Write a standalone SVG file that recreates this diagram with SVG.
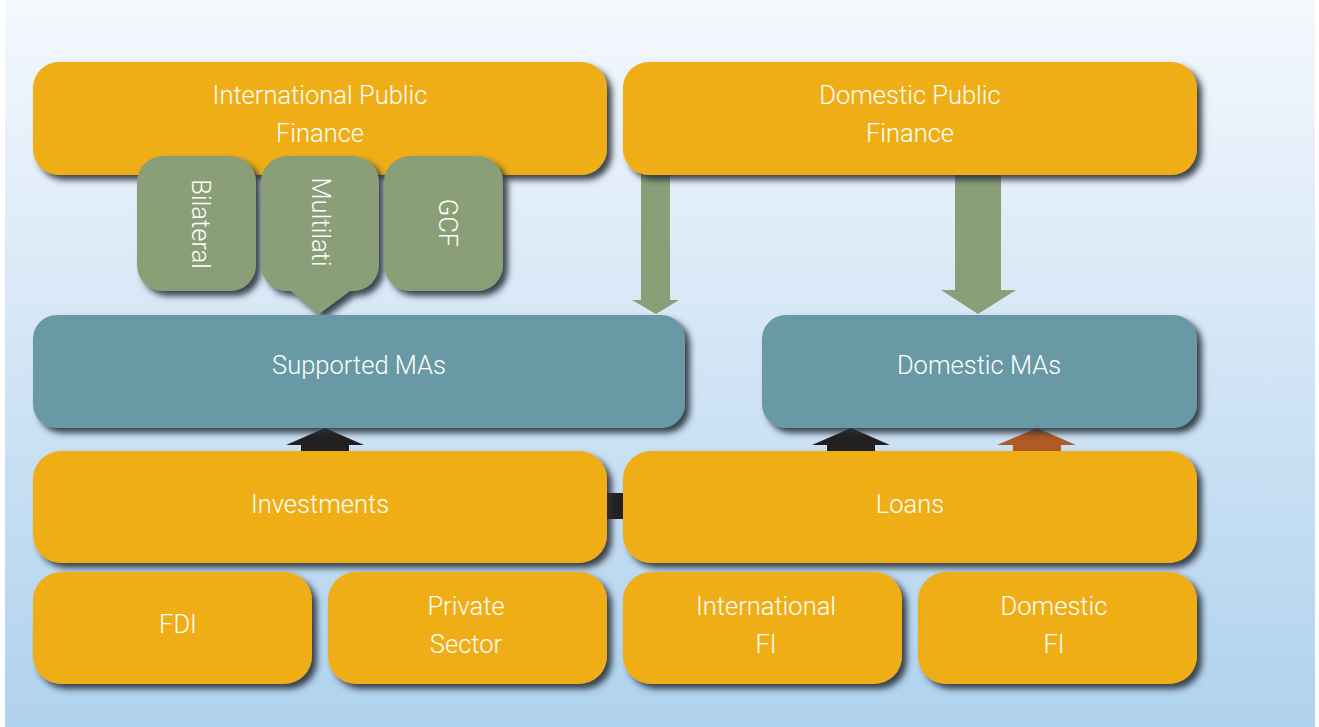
<svg xmlns="http://www.w3.org/2000/svg" width="1319" height="727" viewBox="0 0 1319 727">
<defs>
<linearGradient id="bg" x1="0" y1="0" x2="0" y2="1">
<stop offset="0" stop-color="#f5f8fd"/>
<stop offset="1" stop-color="#afd2ee"/>
</linearGradient>
<filter id="sh" x="-10%" y="-10%" width="125%" height="130%">
<feDropShadow dx="5" dy="5" stdDeviation="3" flood-color="#2b303a" flood-opacity="0.9"/>
</filter>
</defs>
<style>
.o{fill:#f0ae14;filter:url(#sh)}
.g{fill:#8a9f78;filter:url(#sh)}
.t{fill:#6899a4;filter:url(#sh)}
text{font-family:Roboto,"Liberation Sans",Arial,sans-serif;font-weight:300;font-size:25.5px;fill:#ffffff;text-anchor:middle}
</style>
<rect x="0" y="0" width="1319" height="727" fill="#ffffff"/>
<rect x="5" y="0" width="1310" height="727" fill="url(#bg)"/>

<g id="connectors">
<rect x="605" y="493" width="20" height="26" fill="#231f20"/>
<polygon points="301,451 301,445 286,445 325,428 364,445 349,445 349,451" fill="#231f20"/>
<polygon points="827,451 827,445 812,445 851,428 890,445 875,445 875,451" fill="#231f20"/>
<polygon points="1013,451 1013,445 997,445 1037,428 1076,445 1061,445 1061,451" fill="#b05a24"/>
<polygon points="641,170 670,170 670,300 679,300 656,314 632,300 641,300" fill="#8a9f78"/>
<polygon points="955,170 1001,170 1001,290 1016,290 978,314 941,290 955,290" fill="#8a9f78"/>
</g>

<g id="intl-public-finance">
<rect class="o" x="33" y="62" width="574" height="113" rx="26"/>
<text x="320" y="104">International Public</text>
<text x="320" y="142">Finance</text>
</g>
<g id="domestic-public-finance">
<rect class="o" x="623" y="62" width="574" height="113" rx="26"/>
<text x="910" y="104">Domestic Public</text>
<text x="910" y="142">Finance</text>
</g>

<g id="bilateral">
<rect class="g" x="137" y="156" width="119" height="135" rx="26"/>
<text transform="translate(192,224) rotate(90)">Bilateral</text>
</g>
<g id="multilati">
<path class="g" d="M287,156 H353 A26,26 0 0 1 379,182 V265 A26,26 0 0 1 353,291 H350 L319,314 L291,291 H287 A26,26 0 0 1 261,265 V182 A26,26 0 0 1 287,156 Z"/>
<text transform="translate(312,222) rotate(90)">Multilati</text>
</g>
<g id="gcf">
<rect class="g" x="384" y="156" width="119" height="135" rx="26"/>
<text transform="translate(439,223) rotate(90)">GCF</text>
</g>

<g id="supported-mas">
<rect class="t" x="33" y="315" width="652" height="113" rx="24"/>
<text x="359" y="374">Supported MAs</text>
</g>
<g id="domestic-mas">
<rect class="t" x="762" y="315" width="435" height="113" rx="24"/>
<text x="979" y="374">Domestic MAs</text>
</g>

<g id="investments">
<rect class="o" x="33" y="451" width="574" height="112" rx="28"/>
<text x="320" y="513">Investments</text>
</g>
<g id="loans">
<rect class="o" x="623" y="451" width="574" height="112" rx="28"/>
<text x="910" y="513">Loans</text>
</g>

<g id="fdi">
<rect class="o" x="33" y="572" width="279" height="112" rx="28"/>
<text x="178" y="633">FDI</text>
</g>
<g id="private-sector">
<rect class="o" x="328" y="572" width="279" height="112" rx="28"/>
<text x="466" y="615">Private</text>
<text x="466" y="653">Sector</text>
</g>
<g id="international-fi">
<rect class="o" x="623" y="572" width="279" height="112" rx="28"/>
<text x="766" y="615">International</text>
<text x="766" y="653">FI</text>
</g>
<g id="domestic-fi">
<rect class="o" x="918" y="572" width="279" height="112" rx="28"/>
<text x="1054" y="615">Domestic</text>
<text x="1054" y="653">FI</text>
</g>
</svg>
